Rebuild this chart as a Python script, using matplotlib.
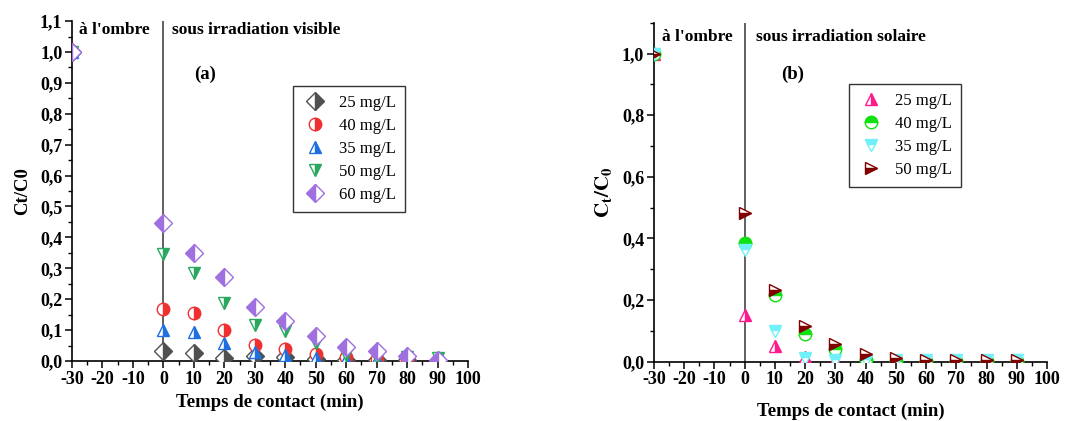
import numpy as np
import matplotlib.pyplot as plt
from matplotlib.ticker import MultipleLocator, FuncFormatter

plt.rcParams['font.family'] = ['Liberation Serif', 'DejaVu Serif']
plt.rcParams['mathtext.fontset'] = 'stix'
plt.rcParams['axes.unicode_minus'] = False

# contact time (min)
temps = [-30, 0, 10, 20, 30, 40, 50, 60, 70, 80, 90]

# (a) visible irradiation
vis_25 = [1.0, 0.031, 0.025, 0.009, 0.016, 0.012, 0.006, 0.004, 0.003, 0.002, 0.001]
vis_40 = [1.0, 0.168, 0.154, 0.101, 0.052, 0.039, 0.022, 0.014, 0.008, 0.005, 0.003]
vis_35 = [1.0, 0.100, 0.095, 0.057, 0.028, 0.021, 0.011, 0.008, 0.005, 0.003, 0.002]
vis_50 = [1.0, 0.346, 0.286, 0.188, 0.118, 0.098, 0.057, 0.019, 0.010, 0.012, 0.010]
vis_60 = [1.0, 0.446, 0.348, 0.273, 0.174, 0.130, 0.082, 0.046, 0.033, 0.017, 0.003]

# (b) solar irradiation
sol_25 = [1.0, 0.151, 0.052, 0.016, 0.005, 0.004, 0.003, 0.003, 0.003, 0.003, 0.003]
sol_40 = [1.0, 0.384, 0.218, 0.090, 0.040, 0.005, 0.003, 0.003, 0.003, 0.003, 0.003]
sol_35 = [1.0, 0.364, 0.100, 0.011, 0.005, 0.005, 0.004, 0.004, 0.004, 0.004, 0.004]
sol_50 = [1.0, 0.481, 0.232, 0.117, 0.056, 0.025, 0.011, 0.005, 0.005, 0.005, 0.005]

series_a = [
    ('25 mg/L', vis_25, 'D', '#505050', 'right'),
    ('40 mg/L', vis_40, 'o', '#f03030', 'right'),
    ('35 mg/L', vis_35, '^', '#1f6fe0', 'right'),
    ('50 mg/L', vis_50, 'v', '#2aa860', 'right'),
    ('60 mg/L', vis_60, 'D', '#a070e0', 'left'),
]
series_b = [
    ('25 mg/L', sol_25, '^', '#ff1a8c', 'right'),
    ('40 mg/L', sol_40, 'o', '#11e011', 'top'),
    ('35 mg/L', sol_35, 'v', '#70f0f8', 'top'),
    ('50 mg/L', sol_50, '>', '#800000', 'bottom'),
]

comma = FuncFormatter(lambda v, p: f'{v:.1f}'.replace('.', ','))

fig = plt.figure(figsize=(10.72, 4.21), dpi=100)
ax_a = fig.add_axes([0.0672, 0.1425, 0.3694, 0.8075])
ax_b = fig.add_axes([0.610, 0.1409, 0.3667, 0.8051])


def style_axes(ax, ymajor, yminor):
    ax.set_xlim(-30, 100)
    ax.set_ylim(0, 1.1)
    ax.spines['top'].set_visible(False)
    ax.spines['right'].set_visible(False)
    for s in ('left', 'bottom'):
        ax.spines[s].set_linewidth(1.2)
    ax.xaxis.set_major_locator(MultipleLocator(10))
    ax.xaxis.set_minor_locator(MultipleLocator(5))
    ax.yaxis.set_major_locator(MultipleLocator(ymajor))
    ax.yaxis.set_minor_locator(MultipleLocator(yminor))
    ax.yaxis.set_major_formatter(comma)
    ax.tick_params(which='major', length=5, width=1.1, labelsize=13, pad=2)
    ax.tick_params(which='minor', length=3, width=1.0)
    for lab in ax.get_xticklabels() + ax.get_yticklabels():
        lab.set_fontweight('bold')
    ax.axvline(0, color='#606060', lw=1.4, zorder=1)
    ax.set_xlabel('Temps de contact (min)', fontsize=13.5, fontweight='bold')


def draw(ax, series, loc):
    for label, vals, mk, col, fs in series:
        ax.plot(temps, vals, linestyle='none', marker=mk, ms=9,
                color=col, mec=col, mfc=col, fillstyle=fs,
                markerfacecoloralt='white', mew=1.0, label=label, zorder=3)
    leg = ax.legend(loc='upper left', bbox_to_anchor=loc, fontsize=12,
                    frameon=True, fancybox=False, edgecolor='black',
                    handletextpad=0.7, borderpad=0.55, labelspacing=0.42,
                    handlelength=1.5, borderaxespad=0)
    leg.get_frame().set_linewidth(1.0)


style_axes(ax_a, 0.1, 0.05)
draw(ax_a, series_a, (0.558, 0.809))
ax_a.set_ylabel('Ct/C0', fontsize=13.5, fontweight='bold', labelpad=6)
ax_a.text(-27.8, 1.071, "à l'ombre", fontsize=12.5, fontweight='bold', va='center')
ax_a.text(2.8, 1.071, 'sous irradiation visible', fontsize=12.5, fontweight='bold', va='center')
ax_a.text(13.8, 0.926, '(a)', fontsize=13.5, fontweight='bold', ha='center', va='center')

style_axes(ax_b, 0.2, 0.1)
draw(ax_b, series_b, (0.496, 0.819))
ax_b.set_ylabel(r'$\mathbf{C_t/C_0}$', fontsize=15, labelpad=6)
ax_b.xaxis.labelpad = 10
ax_b.text(-27.3, 1.055, "à l'ombre", fontsize=12.5, fontweight='bold', va='center')
ax_b.text(3.8, 1.055, 'sous irradiation solaire', fontsize=12.5, fontweight='bold', va='center')
ax_b.text(16.0, 0.932, '(b)', fontsize=13.5, fontweight='bold', ha='center', va='center')

fig.savefig('out.png', dpi=100)
